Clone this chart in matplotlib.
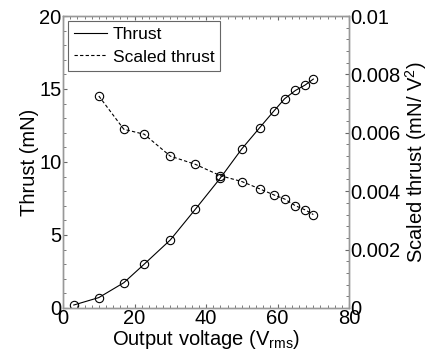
import matplotlib
matplotlib.use("Agg")
import matplotlib.pyplot as plt
from matplotlib.ticker import MultipleLocator, FuncFormatter

plt.rcParams['font.family'] = ['Liberation Sans', 'DejaVu Sans']
plt.rcParams['mathtext.fontset'] = 'custom'
plt.rcParams['mathtext.rm'] = 'Liberation Sans'
plt.rcParams['mathtext.it'] = 'Liberation Sans'

# thrust vs. output voltage
volt_thrust = [3, 10, 17, 22.7, 30, 37, 44, 50, 55, 59, 62, 65, 67.7, 70]
thrust = [0.2, 0.71, 1.73, 3.0, 4.66, 6.76, 8.9, 10.9, 12.35, 13.5, 14.34, 14.9, 15.27, 15.68]

# thrust / V^2
volt_scaled = [10, 17, 22.7, 30, 37, 44, 50, 55, 59, 62, 65, 67.7, 70]
scaled = [0.00726, 0.00612, 0.00595, 0.0052, 0.00492, 0.00453, 0.00433,
          0.00408, 0.00387, 0.00373, 0.0035, 0.00336, 0.0032]

fig = plt.figure(figsize=(4.32, 3.56), dpi=100)
ax = fig.add_axes([0.146, 0.135, 0.662, 0.82])
ax2 = ax.twinx()

l1, = ax.plot(volt_thrust, thrust, '-', color='black', lw=0.8,
              marker='o', mfc='none', mec='black', ms=6, mew=0.8)
l2, = ax2.plot(volt_scaled, scaled, '--', color='black', lw=0.8, dashes=(3, 2),
               marker='o', mfc='none', mec='black', ms=6, mew=0.8)

ax.set_xlim(0, 80)
ax.set_ylim(0, 20)
ax2.set_ylim(0, 0.01)
ax.xaxis.set_major_locator(MultipleLocator(20))
ax.xaxis.set_minor_locator(MultipleLocator(2))
ax.yaxis.set_major_locator(MultipleLocator(5))
ax.yaxis.set_minor_locator(MultipleLocator(1))
ax2.yaxis.set_major_locator(MultipleLocator(0.002))
ax2.yaxis.set_minor_locator(MultipleLocator(0.0004))
ax2.yaxis.set_major_formatter(FuncFormatter(lambda v, p: '%g' % round(v, 6)))

for a in (ax, ax2):
    for s in a.spines.values():
        s.set_color('#999999')
        s.set_linewidth(1.0)
    a.tick_params(which='both', direction='in', color='#666666', labelsize=14.5, pad=1)
    a.tick_params(which='major', length=3)
    a.tick_params(which='minor', length=2)
ax.tick_params(which='both', top=True)

ax.set_xlabel('Output voltage (V$_{\\rm rms}$)', fontsize=14.5, labelpad=0)
ax.set_ylabel('Thrust (mN)', fontsize=14.5, labelpad=0)
ax2.set_ylabel('Scaled thrust (mN/ V$^2$)', fontsize=14.5, labelpad=2)

leg = ax.legend([l1, l2], ['Thrust', 'Scaled thrust'], loc='upper left',
                fontsize=12.5, fancybox=False, framealpha=1, borderaxespad=0.3,
                handlelength=1.9, handletextpad=0.3, borderpad=0.35, labelspacing=0.4)
leg.get_frame().set_edgecolor('#666666')
leg.get_frame().set_linewidth(0.8)
# legend handles without markers
for h in leg.legend_handles:
    h.set_marker('')

fig.savefig('out.png', dpi=100)
